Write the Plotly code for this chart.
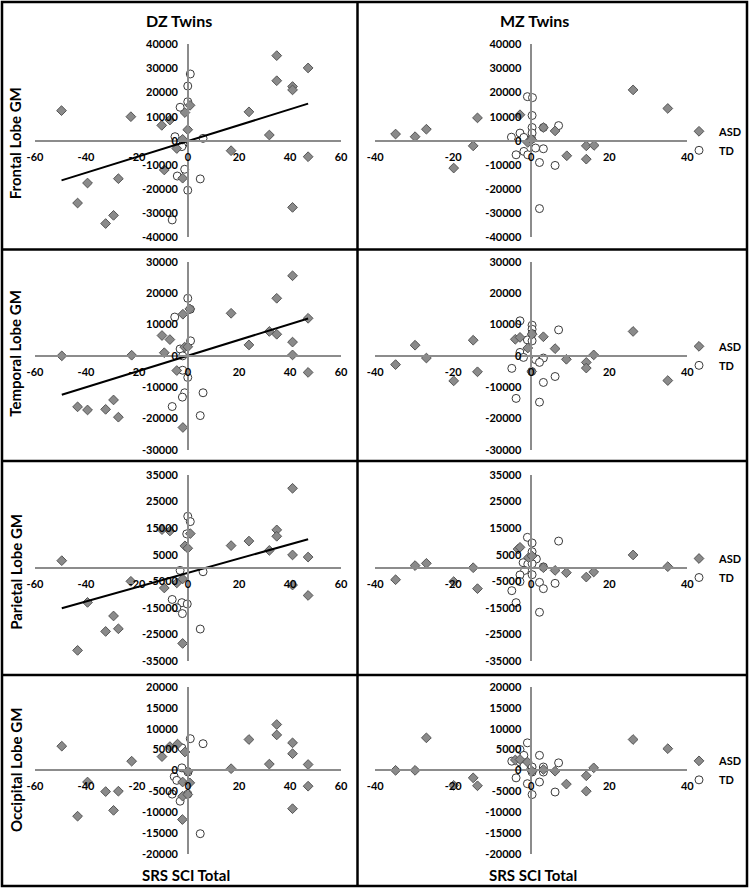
import numpy as np
import plotly.graph_objects as go

W, H = 750, 889

# ---------------- data (SRS SCI Total vs lobe GM residuals) ----------------
# DZ twins
dz_frontal_asd_x = [-49.6, -43.3, -39.4, -32.3, -29.2, -27.3, -22.4, -10.3, -9.3, -7.1, -4.4, -2.1, -2.1, -1.2, -0.1, 0.8, 16.9, 23.9, 31.9, 34.8, 34.8, 41.0, 41.0, 41.0, 47.1, 47.1]
dz_frontal_asd_y = [12500, -25800, -17500, -34300, -30900, -15700, 10000, 6400, -12100, 8600, -3200, 600, -15500, 11700, 4600, 14700, -4100, 12000, 2400, 35300, 24900, 22500, 21100, -27600, 30200, -6600]
dz_frontal_td_x = [0.9, -0.1, -0.1, -3.1, -5.1, -2.0, -2.4, 5.9, -1.3, -4.2, 4.8, -0.1, -6.2]
dz_frontal_td_y = [27700, 22700, 16200, 13900, 1700, -1500, -2400, 1000, -11800, -14600, -15800, -20500, -32800]

dz_temporal_asd_x = [-49.5, -43.3, -39.4, -32.3, -29.2, -27.3, -22.1, -10.2, -9.3, -7.1, -4.4, -2.0, -2.0, -1.3, -0.1, 0.7, 16.9, 23.9, 31.9, 34.8, 34.8, 41.0, 41.0, 41.0, 47.1, 47.1]
dz_temporal_asd_y = [0, -16300, -17300, -17100, -14100, -19600, 200, 6500, 1000, 5200, -4700, 13300, -22900, 2800, 2900, 15000, 13600, 3500, 7800, 18400, 6900, 25600, 4400, 300, 12000, -5300]
dz_temporal_td_x = [-0.1, -5.2, 0.9, 1.0, -3.1, -2.1, -2.1, -0.1, -1.3, -2.2, 5.9, -6.2, 4.8]
dz_temporal_td_y = [18400, 12400, 14900, 4800, 2200, 0, -4600, -6900, -11800, -13200, -11800, -16200, -19100]

dz_parietal_asd_x = [-49.5, -43.3, -39.4, -32.3, -29.2, -27.3, -22.4, -10.2, -9.3, -7.1, -4.4, -2.1, -2.1, -1.2, -0.1, 0.9, 16.9, 23.9, 31.9, 34.8, 34.8, 41.0, 41.0, 41.0, 47.1, 47.1]
dz_parietal_asd_y = [2750, -30900, -12900, -23800, -18000, -22800, -5000, 14400, -7500, 13900, -5600, -4100, -28300, 8300, 7400, 12900, 8400, 10100, 6600, 14300, 11900, 29900, 4900, -6400, 4100, -10300]
dz_parietal_td_x = [-0.1, 0.9, -0.5, -3.1, 5.9, -6.2, -2.4, -0.3, -4.4, -2.2, 4.8]
dz_parietal_td_y = [19400, 17400, 12800, -900, -1400, -11800, -13000, -13500, -14900, -17100, -22900]

dz_occipital_asd_x = [-49.5, -43.3, -39.4, -32.3, -29.2, -27.3, -22.1, -10.2, -7.1, -4.1, -2.1, -2.1, -2.2, -1.2, -0.1, -0.1, 0.7, 16.9, 23.9, 31.9, 34.8, 34.8, 41.0, 41.0, 41.0, 47.1, 47.1]
dz_occipital_asd_y = [5800, -11000, -2800, -5100, -9600, -5000, 2200, 3300, 5700, 6300, -2800, -6200, -11800, 4400, -200, -5800, -3000, 400, 7400, 1500, 11000, 8500, 6600, 4000, -9200, 1400, -3800]
dz_occipital_td_x = [0.9, 5.9, -2.4, -2.4, 0.0, -5.4, -4.4, -6.2, -0.1, -3.1, 4.8]
dz_occipital_td_y = [7600, 6400, 5400, 600, -400, -1500, -2400, -5700, -5700, -7400, -15200]

# MZ twins
mz_frontal_asd_x = [-34.8, -29.8, -26.9, -19.9, -14.9, -13.8, -2.9, -0.9, 0.1, 3.1, 6.1, 9.1, 14.1, 14.1, 16.1, 26.1, 35.0]
mz_frontal_asd_y = [2800, 1700, 4800, -11300, -2100, 9500, 10800, -700, 500, 5500, 4100, -6200, -2100, -7600, -1900, 21100, 13400]
mz_frontal_td_x = [-1.0, 0.3, 0.2, 0.2, 0.2, 3.1, 7.0, -2.9, -5.1, -1.9, -3.9, -1.9, -0.9, 1.1, 3.1, 2.1, 6.1, 2.1, 0.1]
mz_frontal_td_y = [18300, 17900, 10500, 5500, 3200, 5500, 6300, 3200, 1500, 1400, -5800, -4400, -5800, -3000, -3300, -9000, -10200, -28100, 700]

mz_temporal_asd_x = [-34.8, -29.8, -26.9, -19.9, -14.9, -13.8, -4.1, -2.9, -0.9, 0.2, 0.1, 3.1, 6.1, 9.0, 14.1, 14.1, 16.0, 26.1, 35.0]
mz_temporal_asd_y = [-2800, 3400, -700, -8000, 5000, -5100, 5300, 5900, 2500, 6900, -5000, 6100, 2300, -1100, -2100, -3900, 300, 7800, -7900]
mz_temporal_td_x = [-2.9, 0.2, 0.2, 0.2, 7.0, -1.0, 0.2, -2.9, -1.0, -2.0, 1.1, 3.1, 2.1, 0.1, -5.0, 6.1, 3.1, -3.9, 2.1]
mz_temporal_td_y = [11200, 9800, 8500, 7100, 8300, 5100, 4800, 1100, 1200, -500, -1200, -700, -2100, -5000, -4000, -6600, -8500, -13600, -14800]

mz_parietal_asd_x = [-34.8, -29.8, -26.9, -19.9, -14.9, -13.8, -3.4, -2.9, -0.7, 0.2, 3.1, 6.1, 9.0, 14.1, 16.0, 26.1, 35.0]
mz_parietal_asd_y = [-4400, 900, 1750, -5100, 100, -7750, 7100, 7750, 3900, 4500, 100, -900, -1750, -3400, -1500, 4900, 500]
mz_parietal_td_x = [-1.0, 0.2, 0.2, 1.3, 7.0, -2.1, -0.9, 0.2, -1.7, -2.9, 0.2, -2.9, 3.1, 2.1, 3.1, 6.1, -5.0, -3.9, 2.1]
mz_parietal_td_y = [11500, 9400, 6100, 3400, 10100, 2000, 1400, 1600, -900, -2600, -2500, -5100, 400, -5400, -7750, -5750, -8500, -13000, -16600]

mz_occipital_asd_x = [-34.8, -29.8, -26.9, -19.9, -14.9, -13.8, -4.1, -2.9, -1.0, 0.2, 3.1, 6.1, 9.0, 14.1, 14.1, 16.0, 26.1, 35.0]
mz_occipital_asd_y = [0, 0, 7800, -3600, -1800, -3700, 2500, 2600, 2000, -200, 200, -200, -3300, -1300, -5000, 600, 7400, 5200]
mz_occipital_td_x = [-1.0, -2.9, -1.9, 2.1, -5.0, -2.9, 7.0, -1.9, 0.2, 3.1, 3.1, 0.2, -3.9, -1.0, 2.1, 6.1, 0.2]
mz_occipital_td_y = [6600, 5000, 3600, 3600, 2200, 2000, 1800, 1000, 800, 800, -400, -400, -1800, -3200, -2800, -5200, -5800]

# axis ticks
dz_x_ticks = [-60, -40, -20, 0, 20, 40, 60]
mz_x_ticks = [-40, -20, 0, 20, 40]
frontal_y_ticks = [-40000, -30000, -20000, -10000, 0, 10000, 20000, 30000, 40000]
temporal_y_ticks = [-30000, -20000, -10000, 0, 10000, 20000, 30000]
parietal_y_ticks = [-35000, -25000, -15000, -5000, 5000, 15000, 25000, 35000]
occipital_y_ticks = [-20000, -15000, -10000, -5000, 0, 5000, 10000, 15000, 20000]

row_labels = ["Frontal Lobe GM", "Temporal Lobe GM", "Parietal Lobe GM", "Occipital Lobe GM"]
col_titles = ["DZ Twins", "MZ Twins"]
x_title = "SRS SCI Total"
group_names = ["ASD", "TD"]

# ---------------- layout geometry (pixels) ----------------
col_px = [(35, 341), (375.3, 687.3)]
row_px = [(44.3, 237.3), (262, 449.7), (474.7, 661.3), (687, 853.7)]
x_ranges = [(-60, 60), (-40, 40)]
y_ranges = [(-40000, 40000), (-30000, 30000), (-35000, 35000), (-20000, 20000)]
x_ticks = [dz_x_ticks, mz_x_ticks]
y_ticks = [frontal_y_ticks, temporal_y_ticks, parietal_y_ticks, occipital_y_ticks]

data = {
    (0, 0): (dz_frontal_asd_x, dz_frontal_asd_y, dz_frontal_td_x, dz_frontal_td_y, True),
    (1, 0): (dz_temporal_asd_x, dz_temporal_asd_y, dz_temporal_td_x, dz_temporal_td_y, True),
    (2, 0): (dz_parietal_asd_x, dz_parietal_asd_y, dz_parietal_td_x, dz_parietal_td_y, True),
    (3, 0): (dz_occipital_asd_x, dz_occipital_asd_y, dz_occipital_td_x, dz_occipital_td_y, False),
    (0, 1): (mz_frontal_asd_x, mz_frontal_asd_y, mz_frontal_td_x, mz_frontal_td_y, False),
    (1, 1): (mz_temporal_asd_x, mz_temporal_asd_y, mz_temporal_td_x, mz_temporal_td_y, False),
    (2, 1): (mz_parietal_asd_x, mz_parietal_asd_y, mz_parietal_td_x, mz_parietal_td_y, False),
    (3, 1): (mz_occipital_asd_x, mz_occipital_asd_y, mz_occipital_td_x, mz_occipital_td_y, False),
}

FONT = "Lato"
AXC = "#8c8c8c"
TICKFONT = dict(family=FONT, size=11, color="#000000", weight="bold")

fig = go.Figure()
layout = {}
legend_keys = ["legend", "legend2", "legend3", "legend4"]

idx = 0
for row in range(4):
    for col in range(2):
        idx += 1
        xa = "x" if idx == 1 else f"x{idx}"
        ya = "y" if idx == 1 else f"y{idx}"
        xk = "xaxis" if idx == 1 else f"xaxis{idx}"
        yk = "yaxis" if idx == 1 else f"yaxis{idx}"
        x0p, x1p = col_px[col]
        y0p, y1p = row_px[row]
        xdom = [x0p / W, x1p / W]
        ydom = [1 - y1p / H, 1 - y0p / H]
        xr = x_ranges[col]
        yr = y_ranges[row]
        xpos = ydom[0] + (0 - yr[0]) / (yr[1] - yr[0]) * (ydom[1] - ydom[0])
        ypos = xdom[0] + (0 - xr[0]) / (xr[1] - xr[0]) * (xdom[1] - xdom[0])
        layout[xk] = dict(domain=xdom, range=list(xr), anchor="free", position=xpos,
                          showline=True, linecolor=AXC, linewidth=1.6, showgrid=False,
                          zeroline=False, tickvals=x_ticks[col],
                          ticktext=[str(v) for v in x_ticks[col]], ticks="",
                          tickfont=TICKFONT, ticklabelstandoff=6, fixedrange=True)
        layout[yk] = dict(domain=ydom, range=list(yr), anchor="free", position=ypos,
                          showline=True, linecolor=AXC, linewidth=1.6, showgrid=False,
                          zeroline=False, tickvals=y_ticks[row],
                          ticktext=[str(v) for v in y_ticks[row]], ticks="",
                          tickfont=TICKFONT, ticklabelstandoff=7, fixedrange=True)

        ax_, ay_, tx_, ty_, trend = data[(row, col)]
        show = col == 1
        lg = legend_keys[row]
        fig.add_trace(go.Scatter(
            x=tx_, y=ty_, mode="markers", name=group_names[1], xaxis=xa, yaxis=ya,
            marker=dict(symbol="circle", size=8, color="white",
                        line=dict(color="#3a3a3a", width=1)),
            showlegend=show, legend=lg, legendrank=2))
        fig.add_trace(go.Scatter(
            x=ax_, y=ay_, mode="markers", name=group_names[0], xaxis=xa, yaxis=ya,
            marker=dict(symbol="diamond", size=7.5, color="#8a8a8a",
                        line=dict(color="#555555", width=1)),
            showlegend=show, legend=lg, legendrank=1))
        if trend:
            xs = np.array(ax_)
            ys = np.array(ay_)
            m, b = np.polyfit(xs, ys, 1)
            lx = np.array([xs.min(), xs.max()])
            fig.add_trace(go.Scatter(x=lx, y=m * lx + b, mode="lines", xaxis=xa, yaxis=ya,
                                     line=dict(color="black", width=2), showlegend=False,
                                     hoverinfo="skip"))

        if col == 1:
            layout[lg] = dict(x=679 / W, xanchor="left", y=xpos, yanchor="middle",
                              bgcolor="rgba(0,0,0,0)", borderwidth=0,
                              font=dict(family=FONT, size=11, color="#000000", weight="bold"),
                              itemwidth=30)

annotations = []
for c, t in enumerate(col_titles):
    cx = [179, 534][c]
    annotations.append(dict(text=t, x=cx / W, y=1 - 21 / H, xref="paper", yref="paper",
                            showarrow=False, xanchor="center", yanchor="middle",
                            font=dict(family=FONT, size=16, color="black", weight="bold")))
    annotations.append(dict(text=x_title, x=[186, 533][c] / W, y=1 - 874.5 / H,
                            xref="paper", yref="paper", showarrow=False,
                            xanchor="center", yanchor="middle",
                            font=dict(family=FONT, size=15, color="black", weight="bold")))
for r, t in enumerate(row_labels):
    cy = [143, 353.5, 571.5, 769.7][r]
    annotations.append(dict(text=t, x=15.3 / W, y=1 - cy / H, xref="paper", yref="paper",
                            showarrow=False, textangle=-90, xanchor="center", yanchor="middle",
                            font=dict(family=FONT, size=15, color="black", weight="bold")))

# panel borders
BL = dict(color="black", width=2.5)
shapes = [dict(type="rect", xref="paper", yref="paper", x0=2 / W, x1=747 / W,
               y0=1 - 886 / H, y1=1 - 2 / H, line=BL)]
shapes.append(dict(type="line", xref="paper", yref="paper", x0=357.5 / W, x1=357.5 / W,
                   y0=1 - 886 / H, y1=1 - 2 / H, line=BL))
for hy in [249.5, 461, 675]:
    shapes.append(dict(type="line", xref="paper", yref="paper", x0=2 / W, x1=747 / W,
                       y0=1 - hy / H, y1=1 - hy / H, line=BL))

fig.update_layout(width=W, height=H,
                  margin=dict(l=0, r=0, t=0, b=0, pad=0, autoexpand=False),
                  paper_bgcolor="white", plot_bgcolor="white",
                  annotations=annotations, shapes=shapes, **layout)

fig.write_html("out.html",
               config={"displayModeBar": False},
               post_script="document.body.style.margin='0';document.body.style.padding='0';"
                           "document.body.style.overflow='hidden';")
